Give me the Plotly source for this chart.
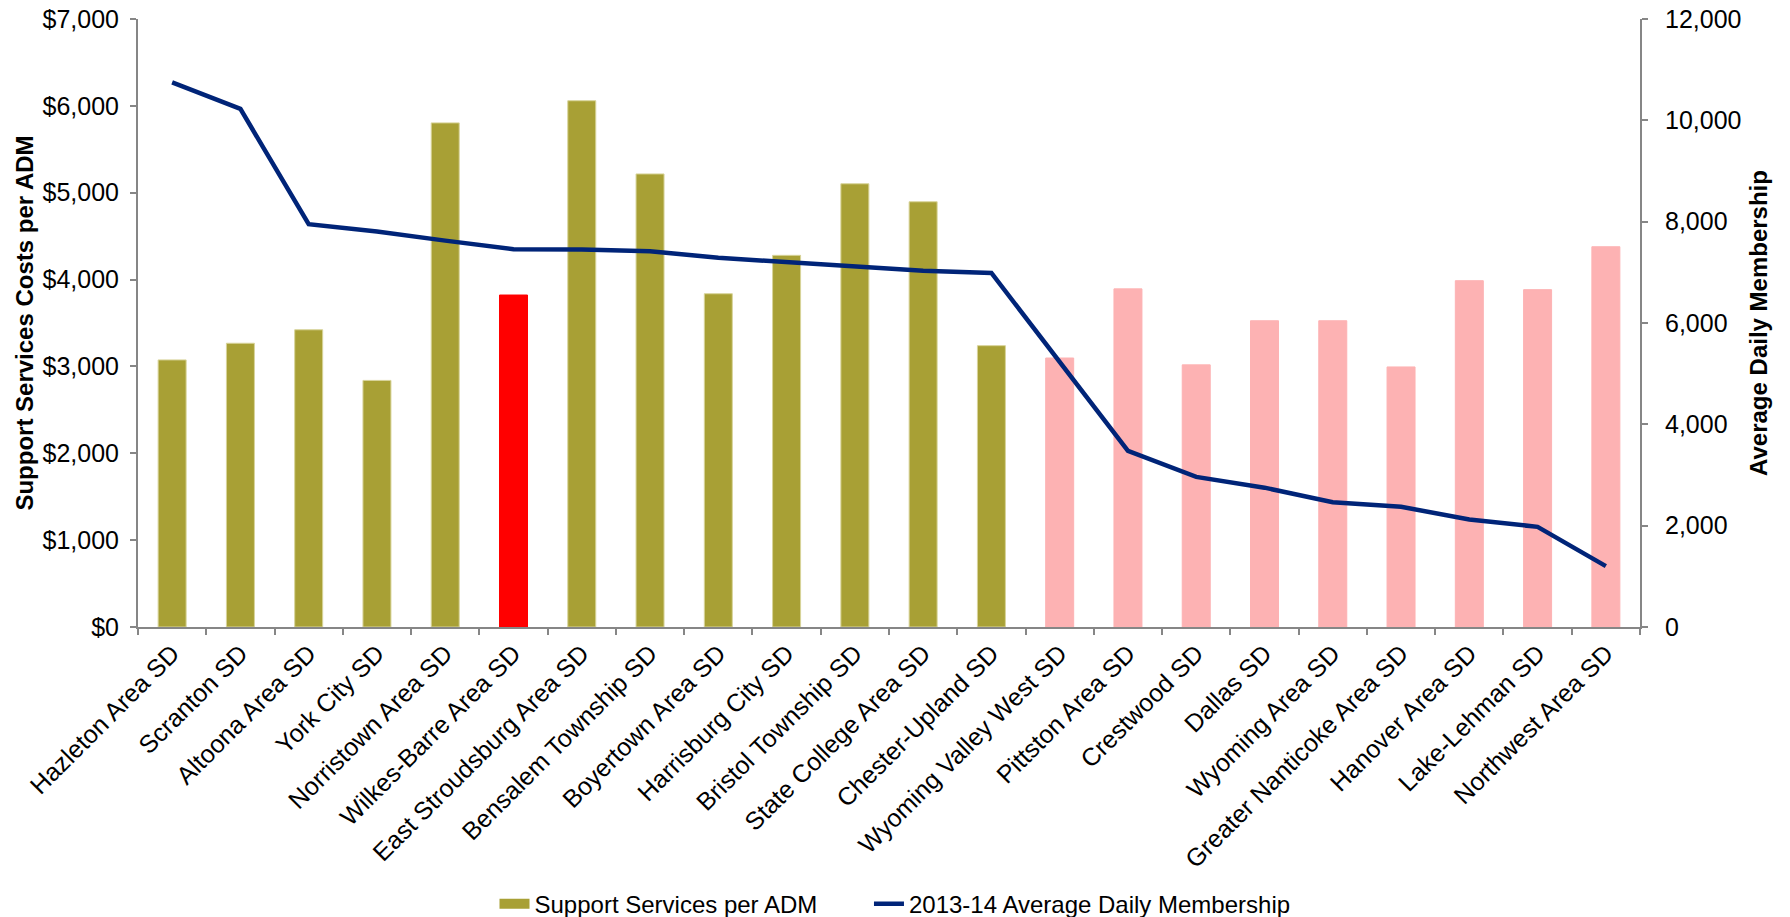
import plotly.graph_objects as go

categories = ["Hazleton Area SD", "Scranton SD", "Altoona Area SD", "York City SD",
              "Norristown Area SD", "Wilkes-Barre Area SD", "East Stroudsburg Area SD",
              "Bensalem Township SD", "Boyertown Area SD", "Harrisburg City SD",
              "Bristol Township SD", "State College Area SD", "Chester-Upland SD",
              "Wyoming Valley West SD", "Pittston Area SD", "Crestwood SD", "Dallas SD",
              "Wyoming Area SD", "Greater Nanticoke Area SD", "Hanover Area SD",
              "Lake-Lehman SD", "Northwest Area SD"]

support_per_adm = [3075, 3267, 3422, 2839, 5804, 3822, 6059, 5216, 3837, 4279,
                   5103, 4896, 3239, 3097, 3893, 3018, 3526, 3526, 2994, 3987,
                   3884, 4378]

adm_2013_14 = [10749, 10225, 7949, 7804, 7626, 7457, 7449, 7416, 7287, 7198,
               7126, 7029, 6988, 5220, 3478, 2962, 2750, 2461, 2373, 2122,
               1977, 1202]

group = ["urban"] * 5 + ["wb"] + ["urban"] * 7 + ["local"] * 9
color_map = {"urban": "#A8A035", "wb": "#FF0000", "local": "#FDB2B3"}
line_map = {"urban": "#D8D49A", "wb": "#FF0000", "local": "#FDB2B3"}
bar_colors = [color_map[g] for g in group]
bar_lines = [line_map[g] for g in group]

FONT = "Liberation Sans, Arial, sans-serif"
AXIS_GRAY = "#868686"
TICK_SIZE = 25
TITLE_SIZE = 24
PAD = "\u00a0" * 7  # spacing between legend entries

fig = go.Figure()
fig.add_trace(go.Bar(
    x=categories, y=support_per_adm, name="Support Services per ADM",
    marker=dict(color=bar_colors, line=dict(color=bar_lines, width=1)),
    yaxis="y", width=0.41, showlegend=False,
))
# legend proxy with a wide rectangular swatch, as in the original chart
fig.add_trace(go.Scatter(
    x=[None], y=[None], name="Support Services per ADM" + PAD, mode="lines",
    line=dict(color="#A8A035", width=14), yaxis="y",
))
fig.add_trace(go.Scatter(
    x=categories, y=adm_2013_14, name="2013-14 Average Daily Membership",
    mode="lines", line=dict(color="#002478", width=4.5), yaxis="y2",
))

fig.update_layout(
    width=1790, height=917,
    margin=dict(l=138, r=150, t=19, b=290),
    plot_bgcolor="white", paper_bgcolor="white",
    font=dict(family=FONT, size=TICK_SIZE, color="#000000"),
    showlegend=True,
    legend=dict(orientation="h", xref="container", yref="container",
                x=0.5, xanchor="center", y=0.014, yanchor="middle",
                font=dict(size=TITLE_SIZE), traceorder="normal"),
    xaxis=dict(
        type="category", showline=True, linecolor=AXIS_GRAY, linewidth=2,
        ticks="outside", tickson="boundaries", ticklen=6, tickcolor=AXIS_GRAY,
        tickwidth=1.5, tickangle=-45, tickfont=dict(size=TICK_SIZE),
        showgrid=False, range=[-0.5, 21.5], automargin=False,
    ),
    yaxis=dict(
        range=[0, 7000], dtick=1000, tickprefix="$", tickformat=",",
        showline=True, linecolor=AXIS_GRAY, linewidth=2, ticks="outside",
        ticklen=6, tickcolor=AXIS_GRAY, tickwidth=1.5, showgrid=False,
        zeroline=False, tickfont=dict(size=TICK_SIZE), ticklabelstandoff=6,
        automargin=False,
        title=dict(text="<b>Support Services Costs per ADM</b>",
                   font=dict(size=TITLE_SIZE), standoff=2),
    ),
    yaxis2=dict(
        range=[0, 12000], dtick=2000, tickformat=",", overlaying="y", side="right",
        showline=True, linecolor=AXIS_GRAY, linewidth=2, ticks="outside",
        ticklen=6, tickcolor=AXIS_GRAY, tickwidth=1.5, showgrid=False,
        zeroline=False, tickfont=dict(size=TICK_SIZE), ticklabelstandoff=12,
        automargin=False,
        title=dict(text="<b>Average Daily Membership</b>",
                   font=dict(size=TITLE_SIZE), standoff=10),
    ),
)

fig.write_html("out.html")
